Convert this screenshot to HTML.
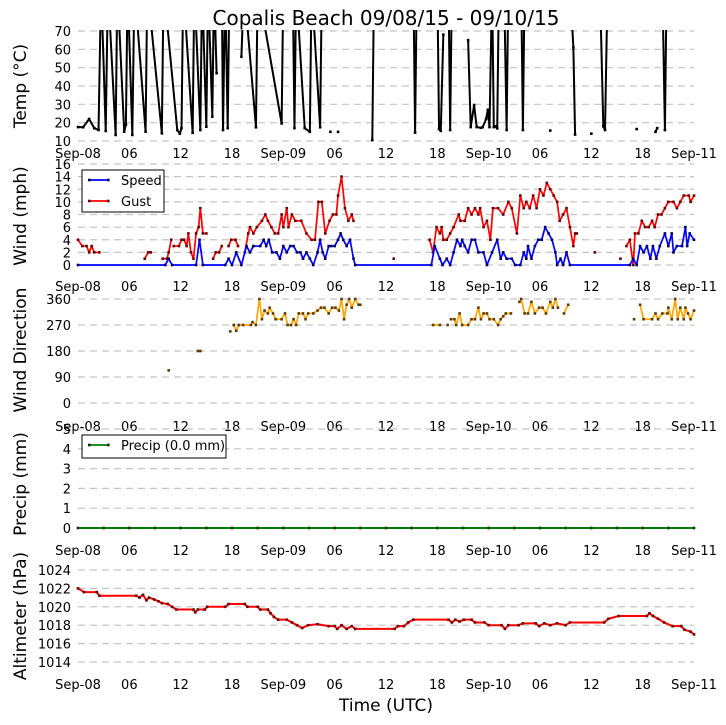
<!DOCTYPE html>
<html><head><meta charset="utf-8">
<style>
html,body{margin:0;padding:0;background:#fff;}
svg{display:block;font-family:"DejaVu Sans","Liberation Sans",sans-serif;}
</style></head>
<body>
<svg id="chart" width="726" height="725" viewBox="0 0 726 725" xmlns="http://www.w3.org/2000/svg">
<defs><clipPath id="tclip"><rect x="70" y="30" width="640" height="112"/></clipPath></defs>
<text x="386" y="25" font-size="20" text-anchor="middle">Copalis Beach 09/08/15 - 09/10/15</text>
<text x="386" y="711" font-size="17" text-anchor="middle">Time (UTC)</text>
<g id="layer"></g>
</svg>
<script>
// ---- data ----
const xTickLabels = ["Sep-08","06","12","18","Sep-09","06","12","18","Sep-10","06","12","18","Sep-11"];
const tempTicks = [10,20,30,40,50,60,70];
const windTicks = [0,2,4,6,8,10,12,14,16];
const dirTicks = [0,90,180,270,360];
const precipTicks = [0,1,2,3,4,5];
const presTicks = [1014,1016,1018,1020,1022,1024];

const tempT = [0,0.6,1.3,1.9,2.4,2.7,3.24,3.5,4.4,4.6,5.4,5.6,5.8,6.35,6.6,7.9,8.1,9.8,10.0,11.6,11.9,12.1,12.3,13.4,13.6,14.3,14.5,15.0,15.2,15.7,15.9,16.2,16.3,16.8,16.95,17.2,17.5,17.7,17.8,19.1,19.4,20.8,21.0,23.8,24.0,25.1,25.3,25.5,26.5,27.1,27.3,28.3,28.5,28.6,29.5,29.6,30.4,30.5,34.4,34.6,39.2,39.4,39.6,42.0,42.2,42.4,42.7,42.8,43.3,43.5,43.7,43.8,45.6,45.9,46.3,46.6,47.1,47.3,47.7,47.9,48.1,48.4,48.6,48.8,49.0,49.2,49.8,50.1,50.3,51.8,52.0,52.2,52.3,55.2,55.3,57.5,57.9,58.1,58.2,60.0,60.1,61.0,61.4,61.6,61.9,62.0,65.3,65.4,67.5,67.7,67.8,68.3,68.6,68.8,68.9,71.4,71.7];
const tempV = [17.6,17.5,22,17,16,95,15.5,95,13.3,95,15.1,19,95,13.3,95,15.1,95,14.2,95,16,14,17,95,14.5,95,16,95,17.8,95,23.3,95,47,null,95,16,95,17,95,null,56,95,17.5,95,19.6,95,95,17,95,17,15,95,17.5,95,null,15,null,15,null,10.5,95,95,14.6,95,95,16.5,15.5,68,null,95,16,95,null,65,17.6,29.6,17.6,17.2,17.6,22,27,17.6,95,17.6,18,16.9,95,95,16,95,95,16,95,null,15.7,null,95,61,13.5,null,14,null,95,18,16,95,null,16.5,null,15,17,null,95,16,95];

const speedT = [0,10.2,10.6,11,13.8,14.2,14.6,17.2,17.6,18,18.5,19.1,19.7,20.1,20.5,21.3,21.7,22,22.3,22.7,23.2,23.6,24,24.4,24.8,25.2,25.6,26,26.3,26.7,27.1,27.5,28,28.3,28.6,28.9,29.3,29.6,30,30.4,30.7,31,31.4,31.8,32.2,32.4,41.3,41.7,42.3,42.6,43.1,43.5,43.9,44.3,44.7,44.9,45.2,45.6,46,46.4,46.8,47.4,47.8,48.4,49,49.4,49.7,50.1,50.7,51.1,51.7,52.1,52.4,52.6,53,53.4,53.8,54.2,54.6,55,55.4,55.8,56,56.4,56.7,57.1,57.5,64.5,64.9,65.3,65.7,66.1,66.5,66.9,67.2,67.6,68,68.6,69,69.4,69.6,70,70.6,71,71.2,71.5,72];
const speedV = [0,0,1,0,0,4,0,0,1,0,2,0,3,2,3,3,4,3,4,2,2,1,3,2,3,3,2,2,1,2,1,0,2,4,2,1,3,3,3,4,5,4,3,4,1,0,0,3,1,0,1,0,2,4,3,4,3,2,4,4,2,2,0,2,4,1,2,1,1,0,0,2,1,3,1,3,4,4,6,5,4,2,0,1,0,2,0,0,1,0,3,2,3,1,3,1,3,5,3,5,2,3,3,6,3,5,4];

const gustT = [0,0.5,1,1.3,1.6,1.9,2.5,2.6,7.8,8.2,8.5,8.6,9.9,10.4,10.6,10.9,11.0,11.2,11.8,12.1,12.4,12.7,12.9,13.2,13.5,13.8,14.1,14.3,14.6,15,15.1,15.8,16.1,16.5,16.8,16.9,17.6,17.9,18.4,18.7,18.8,19.5,19.9,20.1,20.5,20.9,21.5,21.9,22.2,22.6,23,23.4,23.8,24,24.4,24.6,25,25.4,26.1,26.7,27.3,27.7,28.1,28.5,28.9,29.4,29.8,30.2,30.4,30.8,31.2,31.6,32,32.2,32.3,36.9,37.0,41.1,41.5,41.9,42.3,42.5,42.7,43.1,43.5,43.9,44.5,44.7,45.2,45.6,46,46.4,46.8,47,47.4,47.8,48.2,48.5,49.1,49.7,50.3,50.7,51.3,51.7,52.1,52.4,52.8,53.2,53.6,54,54.4,54.8,55.2,55.6,56,56.3,56.7,57.1,57.5,57.9,58.1,58.3,58.4,60.4,60.5,63.4,63.5,64.1,64.5,64.9,65.1,65.5,65.9,66.3,66.7,67.1,67.4,67.8,68.2,68.6,69,69.6,70,70.4,70.8,71.4,71.6,72];
const gustV = [4,3,3,2,3,2,2,null,1,2,2,null,1,1,2,4,null,3,3,4,4,3,5,2,1,5,6,9,5,5,null,1,2,2,3,null,3,4,4,3,null,2,5,6,5,6,7,8,7,6,5,5,8,6,9,6,8,7,7,5,4,4,10,10,5,7,8,8,11,14,9,7,8,7,null,1,null,4,2,6,5,6,4,4,5,6,8,7,7,9,8,9,8,9,6,7,4,9,9,8,10,9,5,11,9,10,9,11,9,12,11,13,12,11,10,7,8,9,6,3,5,5,null,2,null,1,null,3,4,0,5,5,7,6,6,7,6,8,8,9,10,10,9,10,11,11,10,11];

const dirT = [10.6,10.7,14.0,14.3,14.4,17.8,17.9,18.2,18.5,18.8,19.3,20.2,20.4,20.8,21.2,21.5,21.8,22.2,22.4,22.8,23.1,23.8,24.2,24.5,24.9,25.2,25.5,25.8,26.3,26.6,26.9,27.5,28,28.4,28.8,29.3,29.7,30.1,30.5,30.8,31.1,31.4,31.7,32,32.4,32.8,33,33.1,41.5,42.3,42.4,43.2,43.3,43.6,44.0,44.2,44.6,44.9,45.6,46,46.4,46.8,47.1,47.4,47.8,48.1,48.6,49.1,49.4,49.7,50,50.6,50.7,51.6,51.8,52.2,52.6,53,53.4,53.9,54.3,54.7,55.2,55.5,55.8,56.1,56.2,56.8,57.3,57.4,65,65.1,65.7,66.1,67.1,67.5,67.8,68.3,68.9,69,69.4,69.8,70.1,70.4,70.8,71,71.3,71.6,72];
const dirV = [113,null,180,180,null,248,null,270,250,270,270,270,280,270,360,290,320,310,330,310,290,290,310,270,270,290,270,310,310,290,310,310,320,330,330,310,330,330,320,360,290,340,360,330,360,340,340,null,270,270,null,270,null,290,290,270,310,270,270,290,290,330,290,310,310,290,290,270,290,300,310,310,null,350,360,310,310,350,310,330,330,310,350,330,360,330,null,310,340,null,290,null,340,290,290,310,290,310,310,330,290,360,290,330,290,330,310,290,320];

const precipT = [0,3,6,9,12,15,18,21,24,27,30,33,36,39,42,45,48,51,54,57,60,63,66,69,72];
const precipV = [0,0,0,0,0,0,0,0,0,0,0,0,0,0,0,0,0,0,0,0,0,0,0,0,0];

const presT = [0,0.7,2.2,2.5,6.8,7.2,7.6,8,8.3,8.9,9.4,9.8,10.5,11,11.5,13.5,13.7,14,14.8,15.1,17.2,17.6,19.5,19.8,21,21.3,22.2,22.5,22.9,23.4,24.4,25,25.6,26.2,26.9,28,29.3,30,30.3,30.8,31.4,32,32.4,37,37.4,38.1,38.6,39.2,43.3,43.7,44.1,44.6,45.1,46,46.4,47.5,48,49.5,49.9,50.3,51.5,52,53.5,53.9,54.5,55.2,56,57,57.5,61.5,62,63.2,66.5,66.8,67.2,67.8,68.5,69.5,70.5,70.9,71.6,72];
const presV = [1022,1021.6,1021.6,1021.2,1021.2,1021,1021.3,1020.7,1021,1020.8,1020.6,1020.4,1020.3,1020,1019.7,1019.7,1019.4,1019.7,1019.7,1020,1020,1020.3,1020.3,1020,1020,1019.7,1019.7,1019.3,1018.9,1018.6,1018.6,1018.3,1018,1017.7,1018,1018.1,1017.9,1017.9,1017.6,1018,1017.6,1017.9,1017.6,1017.6,1017.9,1017.9,1018.3,1018.6,1018.6,1018.3,1018.6,1018.4,1018.6,1018.6,1018.3,1018.3,1018,1018,1017.6,1018,1018,1018.2,1018.2,1017.9,1018.2,1018,1018.2,1018,1018.3,1018.3,1018.7,1019,1019,1019.3,1019,1018.7,1018.3,1017.9,1017.9,1017.5,1017.3,1017];

// ---- drawing ----
const NS = "http://www.w3.org/2000/svg";
const layer = document.getElementById('layer');
const X0 = 78, X1 = 694, HOURS = 72;
function xScale(h){ return X0 + h*(X1-X0)/HOURS; }
function mk(tag, attrs, parent){
  const e = document.createElementNS(NS, tag);
  for (const k in attrs) e.setAttribute(k, attrs[k]);
  (parent||layer).appendChild(e);
  return e;
}
function yScaleFor(min,max,yBottom,yTop){ return v => yBottom - (v-min)/(max-min)*(yBottom-yTop); }

function panel(name, ticks, ys, labelRowY, title, titleY){
  const g = mk('g', {});
  
  
  ticks.forEach(t => {
    const y = ys(t);
    const ln = mk('line', {x1:X0, x2:X1, y1:y, y2:y, stroke:'#c4c4c4', 'stroke-width':1.2, 'stroke-dasharray':'7,5'}, g);
    
    
    const tx = mk('text', {x:71, y:y+5, 'font-size':13, 'text-anchor':'end'}, g);
    tx.textContent = t;
    
    
  });
  xTickLabels.forEach((lab, i) => {
    const tx = mk('text', {x:xScale(i*6), y:labelRowY, 'font-size':13, 'text-anchor':'middle'}, g);
    tx.textContent = lab;
    
    
  });
  const tt = mk('text', {x:0, y:0, 'font-size':17, 'text-anchor':'middle', transform:`translate(26,${titleY}) rotate(-90)`}, g);
  tt.textContent = title;
  
  
  return g;
}

function series(name, T, V, ys, color, mcolor, parent, clip, sw){
  const g = mk('g', clip ? {'clip-path':'url(#tclip)'} : {}, parent);
  
  
  let d = '', pen = false;
  for (let i=0;i<T.length;i++){
    if (V[i] === null){ pen = false; continue; }
    d += (pen ? 'L' : 'M') + xScale(T[i]).toFixed(2) + ' ' + ys(V[i]).toFixed(2) + ' ';
    pen = true;
  }
  const p = mk('path', {d:d, fill:'none', stroke:color, 'stroke-width':sw||1.7, 'stroke-linejoin':'round'}, g);
  
  
  if (mcolor){
    for (let i=0;i<T.length;i++){
      if (V[i] === null) continue;
      const r = mk('rect', {x:xScale(T[i])-1.3, y:ys(V[i])-1.3, width:2.6, height:2.6, fill:mcolor}, g);
      
      
    }
  }
  return g;
}

function legend(name, x, y, w, h, entries){
  const g = mk('g', {});
  
  
  mk('rect', {x:x, y:y, width:w, height:h, fill:'#fff', stroke:'#000', 'stroke-width':1}, g);
  entries.forEach((e, i) => {
    const cy = y + 10 + i*21;
    const ln = mk('line', {x1:x+7, x2:x+26, y1:cy, y2:cy, stroke:e.color, 'stroke-width':1.7}, g);
    
    
    mk('rect', {x:x+6, y:cy-1.3, width:2.6, height:2.6, fill:e.m}, g);
    mk('rect', {x:x+25, y:cy-1.3, width:2.6, height:2.6, fill:e.m}, g);
    const t = mk('text', {x:x+39, y:cy+5, 'font-size':13}, g);
    t.textContent = e.label;
    
    
  });
}

// Panel 1: temperature
const yT = yScaleFor(10,70,141,31);
const p1 = panel('temp', tempTicks, yT, 158, 'Temp (\u00B0C)', 86);
series('temperature', tempT, tempV, yT, '#000', '#000', p1, true, 2);

// Panel 2: wind
const yW = yScaleFor(0,16,265,164);
const p2 = panel('wind', windTicks, yW, 291, 'Wind (mph)', 216);
series('gust', gustT, gustV, yW, '#ff0000', '#6e0000', p2);
series('speed', speedT, speedV, yW, '#0000ff', '#000066', p2);
legend('wind-legend', 82, 170, 82, 42, [{label:'Speed', color:'#0000ff', m:'#000066'},{label:'Gust', color:'#ff0000', m:'#6e0000'}]);

// Panel 3: direction
const yD = yScaleFor(0,360,403,299);
const p3 = panel('direction', dirTicks, yD, 431, 'Wind Direction', 350);
series('wind-direction', dirT, dirV, yD, '#ffa500', '#5a3c00', p3);

// Panel 4: precip
const yP = yScaleFor(0,5,528,429);
const p4 = panel('precip', precipTicks, yP, 555, 'Precip (mm)', 484);
series('precip', precipT, precipV, yP, '#008000', '#003300', p4, false, 2);
legend('precip-legend', 82, 435, 144, 23, [{label:'Precip (0.0 mm)', color:'#008000', m:'#003300'}]);

// Panel 5: pressure
const yA = yScaleFor(1014,1024,662,570);
const p5 = panel('altimeter', presTicks, yA, 689, 'Altimeter (hPa)', 616);
series('altimeter', presT, presV, yA, '#ff0000', '#6e0000', p5, false, 2);
</script>
</body></html>
